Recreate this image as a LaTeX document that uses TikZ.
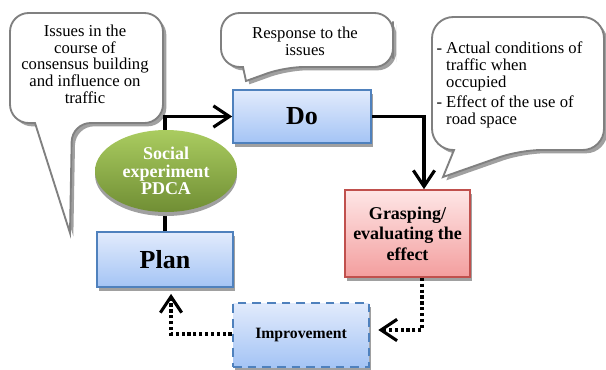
\documentclass[tikz,border=0pt]{standalone}
\usepackage{fontspec}
\setmainfont{Liberation Serif}
\usetikzlibrary{arrows.meta,calc,shapes.geometric,shadows}

\definecolor{stageblue}{RGB}{79,129,189}
\definecolor{stagetop}{RGB}{226,235,252}
\definecolor{stagebottom}{RGB}{164,196,245}
\definecolor{checkred}{RGB}{192,80,77}
\definecolor{checktop}{RGB}{254,230,230}
\definecolor{checkbottom}{RGB}{243,158,158}
\definecolor{cycletop}{RGB}{170,204,96}
\definecolor{cyclebottom}{RGB}{112,142,52}
\definecolor{bubbleline}{RGB}{128,128,128}
\definecolor{shadowgrey}{RGB}{160,160,160}

\tikzset{every picture/.style={line width=0.75pt},
  stage/.style={draw=stageblue, line width=1.3pt, top color=stagetop, bottom color=stagebottom,
    inner sep=0pt, font=\bfseries\fontsize{19.5}{21}\selectfont,
    drop shadow={shadow xshift=1.5pt, shadow yshift=-3pt, fill=shadowgrey, opacity=1}},
  bubble/.style={draw=bubbleline, fill=white, line width=1.4pt,
    drop shadow={shadow xshift=2.5pt, shadow yshift=-2.5pt, fill=shadowgrey, opacity=1}},
  note/.style={align=center, inner sep=0pt, font=\fontsize{12.5}{12.5}\selectfont},
  flow/.style={-{Straight Barb[length=12pt, width=16pt]}, line width=2.3pt},
  backflow/.style={flow, dash pattern=on 2.4pt off 2pt}
}

\begin{document}
\begin{tikzpicture}[x=0.75pt,y=0.75pt,yscale=-1,xscale=1]
	\useasboundingbox (0,0) rectangle (606,369);
	
	%Callout [left]
	\draw[bubble] (163,70) [rounded corners=14] -- (163,123) -- (72,123) [sharp corners] -- (70,233) -- (35,123) [rounded corners=14] -- (10,123) -- (10,13) -- (163,13) -- cycle ;
	%Callout [top]
	\draw[bubble] (393,40) [rounded corners=14] -- (393,67) -- (285,67) [sharp corners] -- (246,81) -- (243,67) [rounded corners=14] -- (221,67) -- (221,13) -- (393,13) -- cycle ;
	%Callout [right]
	\draw[bubble] (604,80) [rounded corners=16] -- (604,150) -- (520,150) [sharp corners] -- (443,177) -- (454,150) [rounded corners=16] -- (432,150) -- (432,17) -- (604,17) -- cycle ;
	
	% Text Node
	\node[note] (issues) at (85,64) {Issues in the\\course of\\consensus building\\and influence on\\traffic};
	% Text Node
	\node[note] (response) at (305,41) {Response to the\\issues};
	% Text Node
	\node[note, align=left, anchor=west, font=\fontsize{12.5}{12.8}\selectfont] (effects) at (436,85) {- Actual conditions of\\\hphantom{-}\ traffic when\\\hphantom{-}\ occupied\\[2pt]- Effect of the use of\\\hphantom{-}\ road space};
	
	%Shape: Rectangles
	\node[stage, minimum width=103.5pt, minimum height=39.75pt] (do) at (302,116.5) {Do};
	\node[stage, minimum width=102pt, minimum height=41.25pt] (plan) at (165,259.5) {Plan};
	\node[stage, draw=checkred, top color=checktop, bottom color=checkbottom, minimum width=93.75pt, minimum height=65.25pt,
	  align=center, font=\bfseries\fontsize{13.5}{15.5}\selectfont] (grasp) at (407.5,233.5) {Grasping/\\evaluating the\\effect};
	\node[stage, dash pattern=on 6.5pt off 4.5pt, line width=2pt, minimum width=102pt, minimum height=48pt,
	  drop shadow={opacity=0}, font=\bfseries\fontsize{11.8}{13}\selectfont] (impr) at (301,335) {Improvement};
	
	%Straight Lines
	\draw[flow] (plan.north) |- (do.west);
	\draw[flow] (do.east) -| ($(grasp.north)+(16.5,0)$);
	\draw[backflow] ($(grasp.south)+(14.5,0)$) |- ($(impr.east)+(8,-5)$);
	\draw[backflow] ($(impr.west)+(0,-1)$) -| ($(plan.south)+(6,6)$);
	
	%Shape: Ellipse
	\node[ellipse, inner sep=0pt, minimum width=106.5pt, minimum height=61.5pt, top color=cycletop, bottom color=cyclebottom,
	  drop shadow={shadow xshift=0pt, shadow yshift=-3pt, fill=shadowgrey, opacity=1},
	  text=white, align=center, font=\bfseries\fontsize{13.5}{13}\selectfont] (cycle) at (166,171) {Social\\experiment\\PDCA};
\end{tikzpicture}
\end{document}
